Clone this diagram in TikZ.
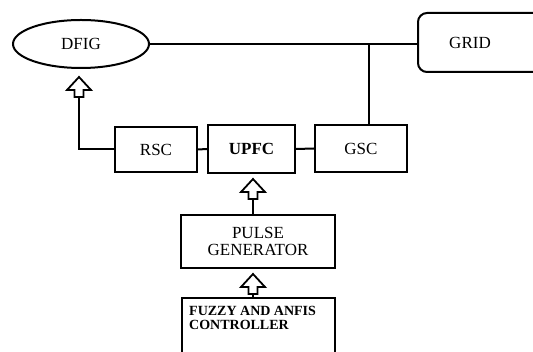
\documentclass[tikz,border=0pt]{standalone}
\usepackage{fontspec}
\setmainfont{Liberation Serif}
\usetikzlibrary{shapes.geometric}

\begin{document}
\begin{tikzpicture}[x=1pt,y=-1pt,
  bloc/.style={draw, line width=2pt, rectangle, inner sep=0pt, font=\fontsize{17}{17}\selectfont},
  flechecreuse/.pic={
    \draw[line width=1.8pt, fill=white, line join=miter]
      (0,0) -- (12,13) -- (4.5,13) -- (4.5,20) -- (-4.5,20) -- (-4.5,13) -- (-12,13) -- cycle;
    \coordinate (-tail) at (0,20);
  },
  liaison/.style={line width=2pt}]
  % Cadre de l'image
  \useasboundingbox (0,0) rectangle (533,352);
  \clip (0,0) rectangle (533,352);

  % Machine et reseau
  \node[bloc, ellipse, minimum width=136, minimum height=48] (dfig) at (81,44) {DFIG};
  \node[bloc, rounded corners=9, minimum width=130, minimum height=59] (grid) at (483,42.5) {};
  \node[font=\fontsize{17}{17}\selectfont] (gridtexte) at (470,43) {GRID};

  % Convertisseurs
  \node[bloc, minimum width=82, minimum height=45] (rsc) at (156,149.5) {RSC};
  \node[bloc, minimum width=87, minimum height=48, font=\fontsize{17}{17}\selectfont\bfseries] (upfc) at (251.5,149) {UPFC};
  \node[bloc, minimum width=92, minimum height=47] (gsc) at (361,148.5) {GSC};

  % Commande
  \node[bloc, minimum width=154, minimum height=53, align=center] (pulse) at (258,241.5) {PULSE\\GENERATOR};
  \node[bloc, minimum width=153, minimum height=70] (ctrl) at (258.5,333) {};
  \node[anchor=north west, align=left, inner sep=0pt, font=\fontsize{14}{14}\selectfont\bfseries] (ctrltexte) at (189,306) {FUZZY AND ANFIS\\CONTROLLER};

  % Liaisons
  \coordinate (piquage) at (369,44);
  \draw[liaison] (dfig.east) -- (dfig.east -| grid.west);
  \draw[liaison] (piquage) -- (piquage |- gsc.north);
  \draw[liaison] (rsc.east) -- (upfc.west);
  \draw[liaison] (upfc.east) -- (gsc.west);

  % Fleches creuses
  \pic (flA) at (79,77) {flechecreuse};
  \pic (flB) at (253,179) {flechecreuse};
  \pic (flC) at (253,274) {flechecreuse};
  \draw[liaison] (rsc.west) -| (flA-tail);
  \draw[liaison] (flB-tail) -- (flB-tail |- pulse.north);
  \draw[liaison] (flC-tail) -- (flC-tail |- ctrl.north);
\end{tikzpicture}
\end{document}
